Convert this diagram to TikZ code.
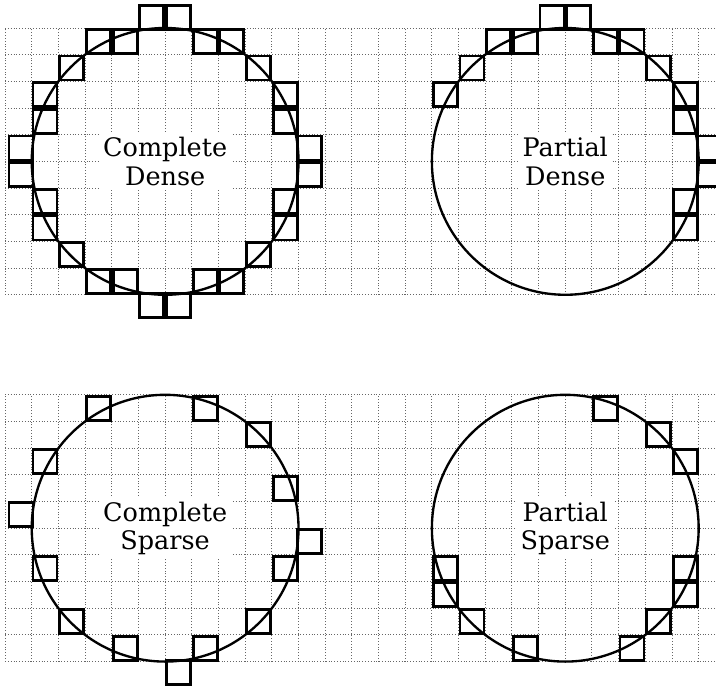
\documentclass[tikz,border=0pt]{standalone}
\usepackage{fontspec}
\setmainfont{DejaVu Serif}
\usepackage{tikz}
\tikzset{
  gridline/.style={black!60, densely dotted, line width=0.5pt},
  ring/.style={line width=1.25pt},
  pix/.style={rectangle, draw, minimum size=0.45cm, inner sep=0pt,
    line width=1.5pt},
  tag/.style={fill=white, align=center, inner sep=2pt,
    font=\fontsize{13.6}{15.1}\selectfont}
}

\begin{document}
\begin{tikzpicture}[x=0.5cm, y=0.5cm]
  \path[use as bounding box] (-0.19,1.05) rectangle (26.65,-24.77);
  \clip (-0.19,1.05) rectangle (26.65,-24.77);

  % Grids
  \draw[gridline, step=1] (0,-10) grid (27,0);
  \begin{scope}[shift={(0,-13.75)}]
    \draw[gridline, step=1] (0,-10) grid (27,0);
  \end{scope}

  % Complete dense
  \begin{scope}[shift={(6,-5)}]
    \draw[ring] (0,0) circle (5);
    \foreach \px/\py [count=\i] in {-0.5/5.4, 0.5/5.4, 1.5/4.5, 2.5/4.5,
        3.5/3.5, 4.5/2.5, 4.5/1.5, 5.4/0.5, 5.4/-0.5, 4.5/-1.5, 4.5/-2.5,
        3.5/-3.5, 2.5/-4.5, 1.5/-4.5, 0.5/-5.4, -0.5/-5.4, -1.5/-4.5,
        -2.5/-4.5, -3.5/-3.5, -4.5/-2.5, -4.5/-1.5, -5.4/-0.5, -5.4/0.5,
        -4.5/1.5, -4.5/2.5, -3.5/3.5, -2.5/4.5, -1.5/4.5}
      \node[pix] (cd\i) at (\px,\py) {};
    \node[tag] (cd_lbl) at (0,0) {Complete\\Dense};
  \end{scope}

  % Partial dense
  \begin{scope}[shift={(21,-5)}]
    \draw[ring] (0,0) circle (5);
    \foreach \px/\py [count=\i] in {-4.5/2.5, -3.5/3.5, -2.5/4.5, -1.5/4.5,
        -0.5/5.4, 0.5/5.4, 1.5/4.5, 2.5/4.5, 3.5/3.5, 4.5/2.5, 4.5/1.5,
        5.4/0.5, 5.4/-0.5, 4.5/-1.5, 4.5/-2.5}
      \node[pix] (pd\i) at (\px,\py) {};
    \node[tag] (pd_lbl) at (0,0) {Partial\\Dense};
  \end{scope}

  % Complete sparse
  \begin{scope}[shift={(6,-18.75)}]
    \draw[ring] (0,0) circle (5);
    \foreach \px/\py [count=\i] in {-2.5/4.5, 1.5/4.5, 3.5/3.5, 4.5/1.5,
        5.4/-0.5, 4.5/-1.5, 3.5/-3.5, 1.5/-4.5, 0.5/-5.4, -1.5/-4.5,
        -3.5/-3.5, -4.5/-1.5, -5.4/0.5, -4.5/2.5}
      \node[pix] (cs\i) at (\px,\py) {};
    \node[tag] (cs_lbl) at (0,0) {Complete\\Sparse};
  \end{scope}

  % Partial sparse
  \begin{scope}[shift={(21,-18.75)}]
    \draw[ring] (0,0) circle (5);
    \foreach \px/\py [count=\i] in {1.5/4.5, 3.5/3.5, 4.5/2.5, 4.5/-1.5,
        4.5/-2.5, 3.5/-3.5, 2.5/-4.5, -1.5/-4.5, -3.5/-3.5, -4.5/-1.5,
        -4.5/-2.5}
      \node[pix] (ps\i) at (\px,\py) {};
    \node[tag] (ps_lbl) at (0,0) {Partial\\Sparse};
  \end{scope}
\end{tikzpicture}
\end{document}
